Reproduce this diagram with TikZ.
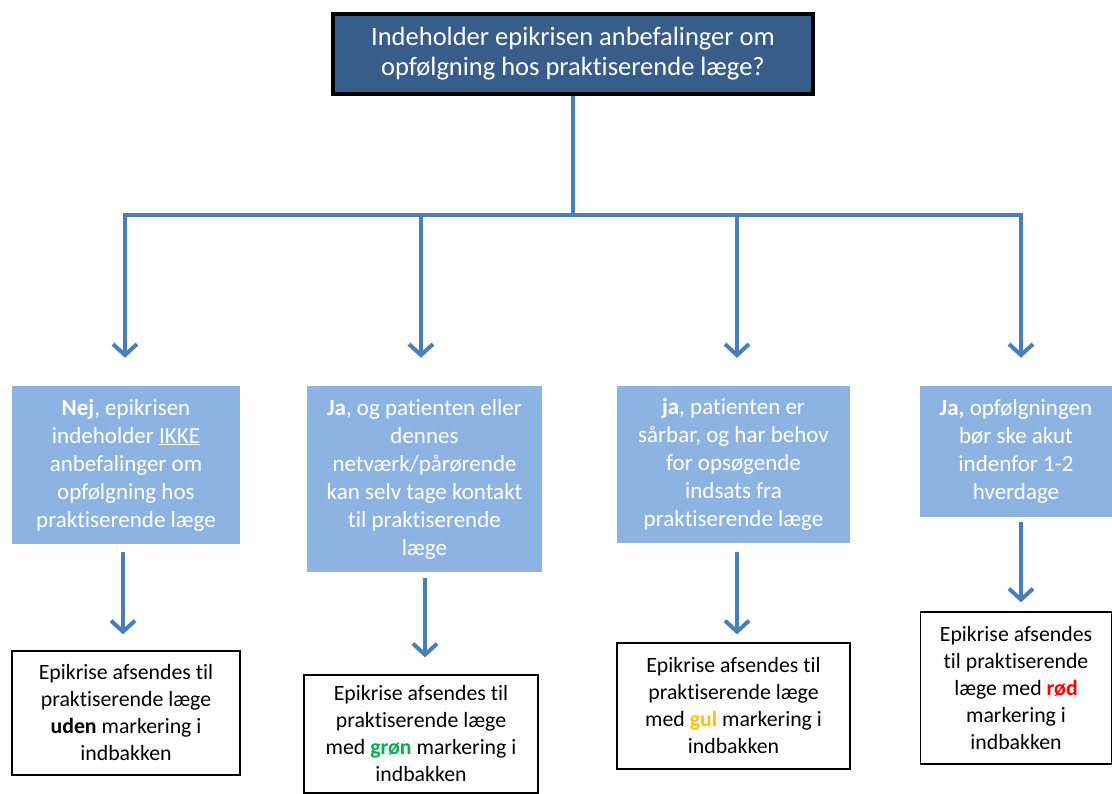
\documentclass[tikz,border=0pt]{standalone}
\usepackage{fontspec}
\setmainfont{Carlito}[Ligatures=NoCommon]
\usetikzlibrary{arrows.meta}
\definecolor{topblue}{HTML}{385D8A}
\definecolor{lightblue}{HTML}{8DB3E2}
\definecolor{linkblue}{HTML}{4A7EBB}
\definecolor{mygreen}{HTML}{00B050}
\definecolor{myyellow}{HTML}{FFC000}
\definecolor{myred}{HTML}{FF0000}
\tikzset{
  topbox/.style={draw=black, line width=4pt, fill=topblue, text=white, align=center,
    minimum width=480pt, minimum height=80pt, inner sep=0pt,
    font=\fontsize{26.5}{30}\selectfont},
  qbox/.style={fill=lightblue, text=white, align=center, inner sep=0pt,
    font=\fontsize{23}{28}\selectfont},
  abox/.style={draw=black, line width=1.2pt, fill=white, text=black, align=center, inner sep=0pt,
    font=\fontsize{21.8}{27}\selectfont},
  conn/.style={draw=linkblue, line width=4pt},
  arr/.style={conn, -{Straight Barb[length=11pt,width=24pt,line width=4pt]}}
}
\begin{document}
\begin{tikzpicture}[x=1pt,y=-1pt]
\useasboundingbox (0,0) rectangle (1112,794);
\node[topbox] (top) at (573,54) {Indeholder epikrisen anbefalinger om\\opfølgning hos praktiserende læge?};

\node[qbox, minimum width=228pt, minimum height=158pt] (b1) at (126,465)
  {\textbf{Nej}, epikrisen\\indeholder \underline{IKKE}\\anbefalinger om\\opfølgning hos\\praktiserende læge};
\node[qbox, minimum width=235pt, minimum height=186pt] (b2) at (424.5,479)
  {\textbf{Ja}, og patienten eller\\dennes\\netværk/pårørende\\kan selv tage kontakt\\til praktiserende\\læge};
\node[qbox, minimum width=233pt, minimum height=157pt] (b3) at (733.5,464.5)
  {\textbf{ja}, patienten er\\sårbar, og har behov\\for opsøgende\\indsats fra\\praktiserende læge};
\node[qbox, minimum width=192pt, minimum height=131pt] (b4) at (1016,451.5)
  {\textbf{Ja,} opfølgningen\\bør ske akut\\indenfor 1-2\\hverdage};

\node[abox, minimum width=228pt, minimum height=124pt] (w1) at (126,713)
  {Epikrise afsendes til\\praktiserende læge\\\textbf{uden} markering i\\indbakken};
\node[abox, minimum width=234pt, minimum height=118pt] (w2) at (421,734)
  {Epikrise afsendes til\\praktiserende læge\\med \textcolor{mygreen}{\textbf{grøn}} markering i\\indbakken};
\node[abox, minimum width=233pt, minimum height=126pt] (w3) at (733.5,706)
  {Epikrise afsendes til\\praktiserende læge\\med \textcolor{myyellow}{\textbf{gul}} markering i\\indbakken};
\node[abox, minimum width=191pt, minimum height=152pt] (w4) at (1016,688)
  {Epikrise afsendes\\til praktiserende\\læge med \textcolor{myred}{\textbf{rød}}\\markering i\\indbakken};

\coordinate (hub) at (573,215);
\coordinate (c1) at (125,215);
\coordinate (c2) at (421,215);
\coordinate (c3) at (737,215);
\coordinate (c4) at (1021,215);
\draw[conn] (top.south) -- (hub);
\draw[conn] ([xshift=-2pt]c1) -- ([xshift=2pt]c4);
\draw[arr, shorten >=28pt] (c1) -- (c1 |- b1.north);
\draw[arr, shorten >=28pt] (c2) -- (c2 |- b2.north);
\draw[arr, shorten >=28pt] (c3) -- (c3 |- b3.north);
\draw[arr, shorten >=28pt] (c4) -- (c4 |- b4.north);

\coordinate (d1) at (123,544);
\coordinate (d2) at (425,572);
\coordinate (d3) at (737,543);
\coordinate (d4) at (1021,517);
\draw[arr, shorten <=8pt, shorten >=16pt] (d1) -- (d1 |- w1.north);
\draw[arr, shorten <=6pt, shorten >=17pt] (d2) -- (d2 |- w2.north);
\draw[arr, shorten <=9pt, shorten >=8pt] (d3) -- (d3 |- w3.north);
\draw[arr, shorten <=5pt, shorten >=9pt] (d4) -- (d4 |- w4.north);
\end{tikzpicture}
\end{document}
